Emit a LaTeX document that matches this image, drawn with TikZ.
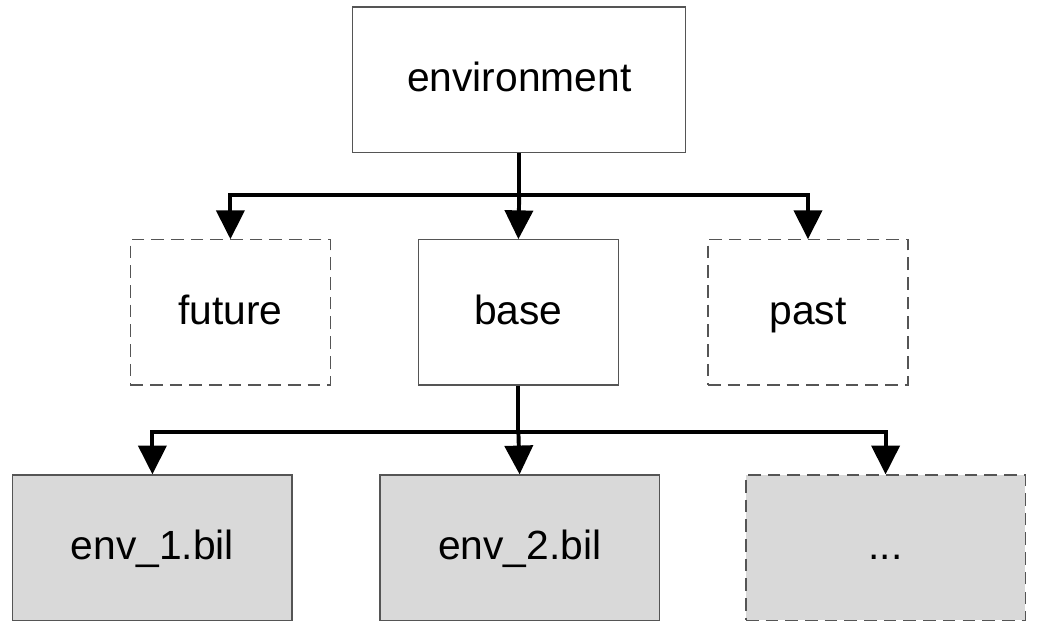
\documentclass[tikz,border=0pt]{standalone}
\usepackage{fontspec}
\setmainfont{Liberation Sans}
\usetikzlibrary{arrows.meta,positioning}
\definecolor{edge}{HTML}{555555}
\definecolor{filegrey}{HTML}{D9D9D9}

\begin{document}
\begin{tikzpicture}[font=\fontsize{29}{34}\selectfont,
  box/.style={draw=edge,line width=0.9pt,fill=white,minimum width=5cm,
              minimum height=3.63cm,align=center,inner sep=0pt,
              text height=17pt,text depth=0pt},
  opt/.style={box,dash pattern=on 9pt off 5pt},
  file/.style={box,fill=filegrey,minimum width=6.98cm},
  f/.style={-{Triangle[length=7.2mm,width=7mm]},line width=2.8pt,draw=black}]

\useasboundingbox (0,0) rectangle (26.025,-16.1);

\node[box,minimum width=8.33cm](env) at (12.98,-1.99){environment};

\node[opt](future) at (5.76,-7.81){future};
\node[box](base) at (12.96,-7.81){base};
\node[opt](past) at (20.20,-7.81){past};

\node[file](bil1) at (3.81,-13.69){env\_1.bil};
\node[file](bil2) at (12.99,-13.69){env\_2.bil};
\node[file,dash pattern=on 9pt off 5pt](more) at (22.14,-13.69){...};

\coordinate (j1) at (env.south |- 0,-4.88);
\coordinate (j2) at (base.south |- 0,-10.8);

\draw[f](env.south)--(j1)-|(future.north); \draw[f](j1)--(base.north);
\draw[f](j1)-|(past.north);
\draw[f](base.south)--(j2)-|(bil1.north); \draw[f](j2)--(bil2.north);
\draw[f](j2)-|(more.north);
\end{tikzpicture}
\end{document}
